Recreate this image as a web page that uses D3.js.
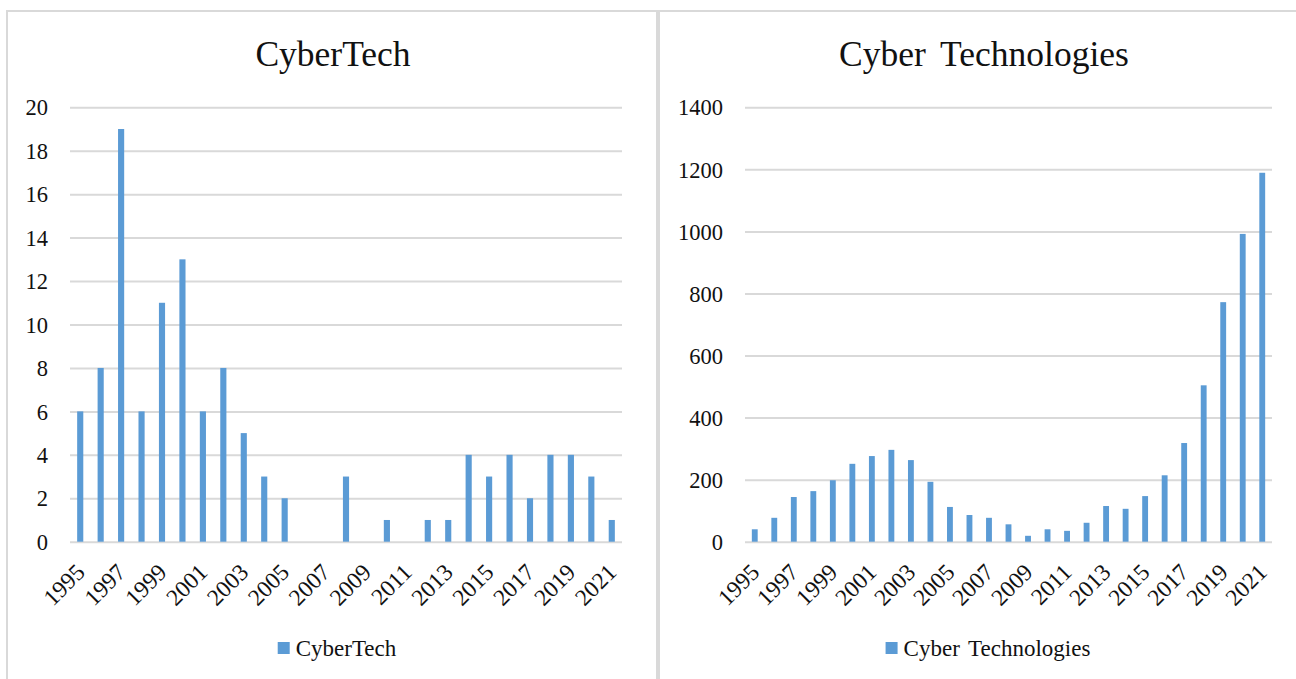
<!DOCTYPE html>
<html>
<head>
<meta charset="utf-8">
<script src="https://cdn.jsdelivr.net/npm/d3@7"></script>
<style>
  html, body { margin: 0; padding: 0; background: #ffffff; }
  svg { display: block; }
  text { font-family: "Liberation Serif", "Times New Roman", serif; fill: #111; }
</style>
</head>
<body>
<svg id="chart" width="1296" height="679"></svg>
<script>
// ---- data ----
const years = d3.range(1995, 2022).map(String);
const cyberTech = [6, 8, 19, 6, 11, 13, 6, 8, 5, 3, 2, 0, 0, 3, 0, 1, 0, 1, 1, 4, 3, 4, 2, 4, 4, 3, 1];
const cyberTechnologies = [40, 77, 144, 163, 198, 251, 276, 296, 263, 193, 112, 86, 77, 56, 19, 40, 35, 61, 115, 106, 147, 214, 318, 504, 772, 992, 1189];
const leftTicks = [0, 2, 4, 6, 8, 10, 12, 14, 16, 18, 20];
const rightTicks = [0, 200, 400, 600, 800, 1000, 1200, 1400];
const xLabels = years.filter((d, i) => i % 2 === 0);
const titles = ["CyberTech", "Cyber Technologies"];

const svg = d3.select("#chart");
const barColor = "#5b9bd5";
const gridColor = "#d9d9d9";

function panel(opts) {
  const g = svg.append("g");
  g.append("rect")
    .attr("x", opts.px).attr("y", 11)
    .attr("width", opts.pw).attr("height", 720)
    .attr("fill", "#fff")
    .attr("stroke", gridColor).attr("stroke-width", 2);

  const x = d3.scaleBand().domain(years)
    .range([opts.x0, opts.x1])
    .paddingInner(0.7).paddingOuter(0.35);
  const y = d3.scaleLinear().domain([0, opts.max]).range([541.7, 107.3]);

  const ya = g.append("g")
    .attr("transform", `translate(${opts.x0},0)`)
    .call(d3.axisLeft(y).tickValues(opts.ticks).tickSize(-(opts.x1 - opts.x0)).tickPadding(22).tickFormat(d3.format("d")));
  ya.select(".domain").remove();
  ya.selectAll(".tick line").attr("stroke", gridColor).attr("stroke-width", 2);
  ya.selectAll(".tick text").attr("font-size", 22.5).attr("fill", "#111")
    .attr("font-family", "'Liberation Serif', 'Times New Roman', serif")
    .attr("dy", "0.34em");

  g.append("g").selectAll("rect")
    .data(opts.values)
    .join("rect")
    .attr("x", (d, i) => x(years[i]))
    .attr("width", x.bandwidth())
    .attr("y", d => y(d))
    .attr("height", d => y(0) - y(d))
    .attr("fill", barColor);

  const xa = g.append("g")
    .attr("transform", `translate(0,${y(0)})`)
    .call(d3.axisBottom(x).tickValues(xLabels).tickSize(0).tickPadding(0));
  xa.select(".domain").remove();
  xa.selectAll(".tick text")
    .attr("font-size", 23.5).attr("fill", "#111")
    .attr("font-family", "'Liberation Serif', 'Times New Roman', serif")
    .attr("text-anchor", "end")
    .attr("dy", 0).attr("y", 0)
    .attr("transform", "translate(6,32) rotate(-45)");

  g.append("text")
    .attr("x", opts.px + opts.pw / 2 + 1)
    .attr("y", 66)
    .attr("text-anchor", "middle")
    .attr("font-size", 35.5)
    .style("word-spacing", "6px")
    .text(opts.title);

  const lg = g.append("g");
  const lt = lg.append("text")
    .attr("y", 656)
    .attr("font-size", 23)
    .style("word-spacing", "3px")
    .text(opts.title);
  const tw = lt.node().getComputedTextLength();
  const total = 12 + 6 + tw;
  const lx = opts.px + opts.pw / 2 + 5 - total / 2;
  lg.append("rect").attr("x", lx).attr("y", 642).attr("width", 12).attr("height", 12).attr("fill", barColor);
  lt.attr("x", lx + 18);
}

panel({ px: 7, pw: 650, x0: 70, x1: 622, max: 20, ticks: leftTicks, values: cyberTech, title: titles[0] });
panel({ px: 659, pw: 648, x0: 745, x1: 1272, max: 1400, ticks: rightTicks, values: cyberTechnologies, title: titles[1] });
</script>
</body>
</html>
